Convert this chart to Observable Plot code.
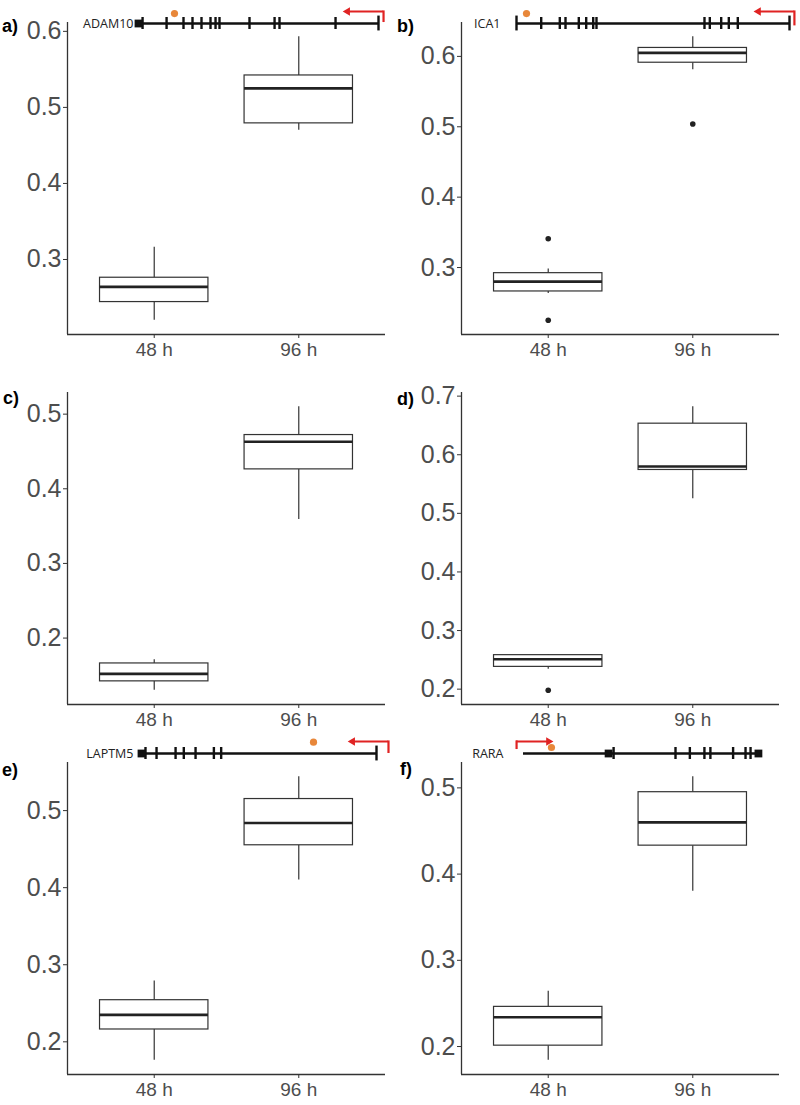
<!DOCTYPE html>
<html><head><meta charset="utf-8">
<script src="https://cdn.jsdelivr.net/npm/d3@7"></script>
<script src="https://cdn.jsdelivr.net/npm/@observablehq/plot@0.6"></script>
<style>
body{margin:0;background:#fff;}
#root{position:relative;width:800px;height:1105px;overflow:hidden;background:#fff;}
.panel{position:absolute;width:400px;}
.panel svg{overflow:visible;max-width:none;}
.lab{position:absolute;font:bold 18px "Liberation Sans",Arial,sans-serif;line-height:18px;color:#000;}
</style></head><body><div id="root"></div>
<script>
// ---------- data ----------
const panelIds = ["a", "b", "c", "d", "e", "f"];
const timepoints = ["48 h", "96 h"];
// per panel: [48 h, 96 h]
const whiskerLow    = [[0.220, 0.470], [0.263, 0.581], [0.130, 0.359], [0.234, 0.525], [0.176, 0.410], [0.184, 0.380]];
const lowerQuartile = [[0.244, 0.479], [0.266, 0.591], [0.142, 0.426], [0.238, 0.574], [0.216, 0.455], [0.201, 0.433]];
const medians       = [[0.264, 0.525], [0.280, 0.605], [0.152, 0.463], [0.251, 0.580], [0.235, 0.484], [0.234, 0.460]];
const upperQuartile = [[0.276, 0.542], [0.292, 0.612], [0.166, 0.472], [0.258, 0.653], [0.254, 0.515], [0.246, 0.495]];
const whiskerHigh   = [[0.316, 0.593], [0.298, 0.628], [0.171, 0.510], [0.259, 0.682], [0.279, 0.544], [0.264, 0.513]];
const outlierPanel = ["b", "b", "b", "d"];
const outlierTime  = ["48 h", "48 h", "96 h", "48 h"];
const outlierValue = [0.341, 0.225, 0.504, 0.198];
const yTickValues = [
  [0.3, 0.4, 0.5, 0.6],
  [0.3, 0.4, 0.5, 0.6],
  [0.2, 0.3, 0.4, 0.5],
  [0.2, 0.3, 0.4, 0.5, 0.6, 0.7],
  [0.2, 0.3, 0.4, 0.5],
  [0.2, 0.3, 0.4, 0.5]
];
// gene structure schematics (relative position along the drawn gene, 0..1)
const geneNames  = ["ADAM10", "ICA1", "LAPTM5", "RARA"];
const genePanels = ["a", "b", "e", "f"];
const geneExons  = [
  [0.017, 0.117, 0.1875, 0.225, 0.2625, 0.300, 0.321, 0.3375, 0.4625, 0.567, 0.5875, 0.821],
  [0.0905, 0.1586, 0.1795, 0.2282, 0.2553, 0.281, 0.293, 0.6886, 0.7081, 0.7498, 0.7777, 0.8106],
  [0.017, 0.064, 0.145, 0.180, 0.230, 0.308, 0.339],
  [0.377, 0.636, 0.696, 0.757, 0.782, 0.877, 0.929, 0.950]
];
const geneEnds   = [[1], [0, 1], [1], []];
const geneBlocks = [[0], [], [0], [0.356, 0.983]];
const variantPos = [0.15, 0.0366, 0.732, 0.117];
const tssPos     = [1.021, 1.018, 1.051, -0.029];
const tssTip     = [0.871, 0.886, 0.898, 0.105];

// ---------- layout (styles / positions) ----------
const layout = {
  a: {left: 0,   top: 0,   ml: 67, mr: 15},
  b: {left: 400, top: 0,   ml: 61, mr: 21},
  c: {left: 0,   top: 370, ml: 67, mr: 15},
  d: {left: 400, top: 370, ml: 61, mr: 21},
  e: {left: 0,   top: 740, ml: 67, mr: 15},
  f: {left: 400, top: 740, ml: 61, mr: 21}
};
const labelPos = {a: [2, 17], b: [397, 17], c: [3, 389], d: [397, 390], e: [2, 761], f: [400, 760]};
const trackStyle = {
  ADAM10: {span: [138, 378], line: 23.3, gap: 5,  dotLift: 0.83, tssLow: 0.08},
  ICA1:   {span: [516, 789], line: 22.7, gap: 16, dotLift: 0.83, tssLow: -0.2},
  LAPTM5: {span: [141, 376], line: 753.3, gap: 8, dotLift: 0.94, tssLow: 0.0},
  RARA:   {span: [523, 762], line: 753, gap: 20, dotLift: 0.5,  tssLow: 0.33}
};
const INK = "#333333", TXT = "#4d4d4d", RED = "#e02323", ORANGE = "#e8873a";

const root = document.getElementById("root");
function place(node, left, top) {
  const div = document.createElement("div");
  div.className = "panel";
  div.style.left = left + "px";
  div.style.top = top + "px";
  div.appendChild(node);
  root.appendChild(div);
}

panelIds.forEach((id, i) => {
  const L = layout[id];
  const stats = timepoints.map((t, j) => ({
    time: t, idx: j + 1,
    lo: whiskerLow[i][j], q1: lowerQuartile[i][j], med: medians[i][j],
    q3: upperQuartile[i][j], hi: whiskerHigh[i][j]
  }));
  const outs = outlierPanel.map((p, k) => ({panel: p, idx: timepoints.indexOf(outlierTime[k]) + 1, value: outlierValue[k]}))
    .filter(o => o.panel === id);
  const vals = [...stats.flatMap(s => [s.lo, s.hi]), ...outs.map(o => o.value)];
  const [mn, mx] = d3.extent(vals);
  const pad = (mx - mn) * 0.05;
  const yDom = [mn - pad, mx + pad];
  const xDom = [0.4, 2.6];
  const half = 0.375;
  const chart = Plot.plot({
    width: 400, height: 365,
    marginLeft: L.ml, marginRight: L.mr, marginTop: 22, marginBottom: 31,
    x: {domain: xDom},
    y: {domain: yDom},
    style: {fontFamily: "'Liberation Sans', Arial, sans-serif", background: "transparent", overflow: "visible"},
    marks: [
      Plot.ruleX(stats, {x: "idx", y1: "lo", y2: "q1", stroke: INK, strokeWidth: 1.2}),
      Plot.ruleX(stats, {x: "idx", y1: "q3", y2: "hi", stroke: INK, strokeWidth: 1.2}),
      Plot.rect(stats, {x1: d => d.idx - half, x2: d => d.idx + half, y1: "q1", y2: "q3", fill: "white", stroke: INK, strokeWidth: 1.2}),
      Plot.ruleY(stats, {y: "med", x1: d => d.idx - half, x2: d => d.idx + half, stroke: "#222", strokeWidth: 2.6}),
      Plot.dot(outs, {x: "idx", y: "value", r: 2.8, fill: "#222", stroke: null}),
      Plot.ruleX([xDom[0]], {stroke: INK, strokeWidth: 1.3}),
      Plot.ruleY([yDom[0]], {stroke: INK, strokeWidth: 1.3}),
      Plot.axisY({ticks: yTickValues[i], tickFormat: d3.format(".1f"), tickSize: 4, tickPadding: 2,
        fontSize: 25, fill: TXT, stroke: INK, label: null}),
      Plot.axisX({ticks: [1, 2], tickFormat: d => timepoints[d - 1], tickSize: 4, tickPadding: 4,
        fontSize: 19, fill: TXT, stroke: INK, label: null})
    ]
  });
  place(chart, L.left, L.top);
});

// gene tracks
geneNames.forEach((name, g) => {
  const S = trackStyle[name];
  const L = layout[genePanels[g]];
  const dir = tssTip[g] < tssPos[g] ? -1 : 1;
  const track = Plot.plot({
    width: 400, height: 40,
    marginLeft: S.span[0] - L.left, marginRight: 400 - (S.span[1] - L.left),
    marginTop: 8, marginBottom: 8,
    x: {domain: [0, 1], axis: null},
    y: {domain: [-1, 1], axis: null},
    style: {background: "transparent", overflow: "visible"},
    marks: [
      Plot.ruleY([0], {x1: 0, x2: 1, stroke: "#111", strokeWidth: 2.5}),
      Plot.ruleX(geneExons[g], {x: d => d, y1: -0.5, y2: 0.5, stroke: "#111", strokeWidth: 2.4}),
      Plot.ruleX(geneEnds[g], {x: d => d, y1: -0.62, y2: 0.62, stroke: "#111", strokeWidth: 2.4}),
      Plot.dot(geneBlocks[g], {x: d => d, y: 0, symbol: "square", r: 4.4, fill: "#111", stroke: null}),
      Plot.text([name], {x: 0, y: 0, text: d => d, textAnchor: "end", dx: -S.gap, dy: 0,
        fontSize: 12.5, fontFamily: "'Open Sans', 'DejaVu Sans', sans-serif", fill: "#222"}),
      Plot.dot([variantPos[g]], {x: d => d, y: S.dotLift, r: 3.6, fill: ORANGE, stroke: null}),
      Plot.ruleX([tssPos[g]], {x: d => d, y1: S.tssLow, y2: 1.05, stroke: RED, strokeWidth: 2.2}),
      Plot.ruleY([1.0], {x1: tssPos[g], x2: tssTip[g], stroke: RED, strokeWidth: 2.2}),
      Plot.dot([tssTip[g]], {x: d => d, y: 1.0, symbol: "triangle", r: 3.1, fill: RED, stroke: null,
        rotate: dir < 0 ? -90 : 90})
    ]
  });
  place(track, L.left, S.line - 20);
});

// panel letters
panelIds.forEach(id => {
  const el = document.createElement("div");
  el.className = "lab";
  el.textContent = id + ")";
  el.style.left = labelPos[id][0] + "px";
  el.style.top = labelPos[id][1] + "px";
  root.appendChild(el);
});
</script></body></html>
